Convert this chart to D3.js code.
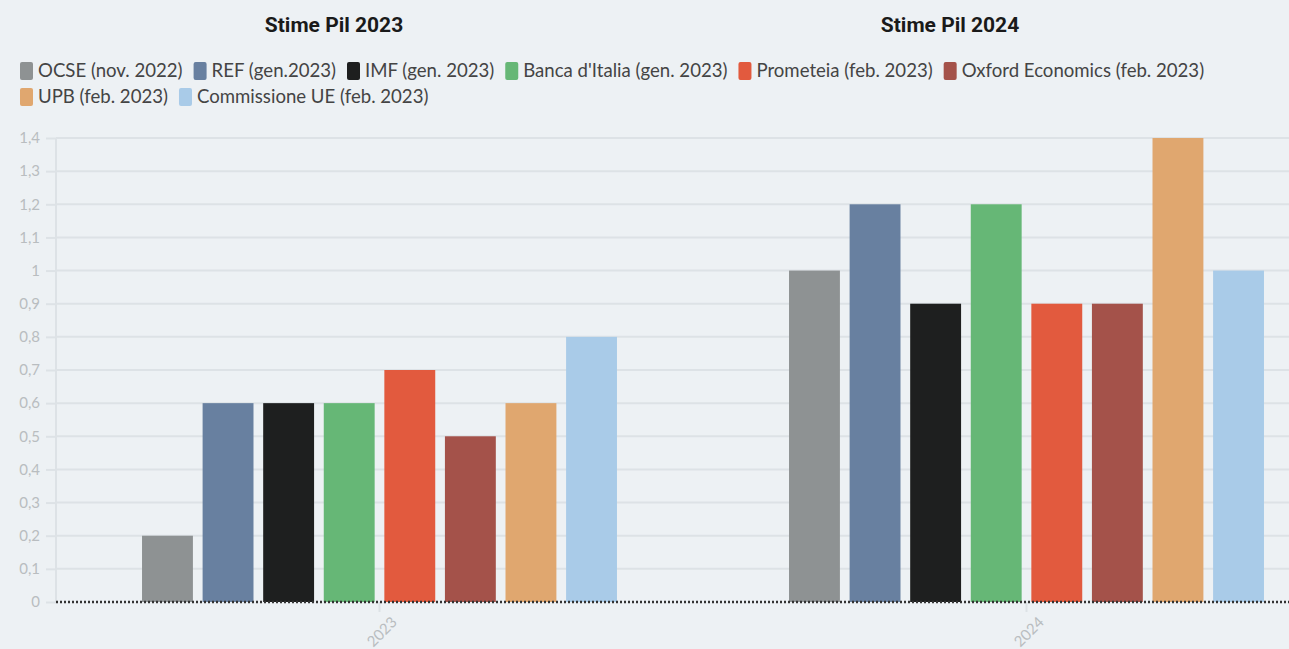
<!DOCTYPE html>
<head>
    <meta charset="utf-8">
    <script src="https://cdn.jsdelivr.net/npm/d3@7"></script>
    <style type="text/css">
        body {
            margin: 0;
            background: #edf1f4;
        }
        #chart svg {
            display: block;
        }
        .title {
            font: bold 21px Roboto, sans-serif;
            fill: #1a1a1a;
        }
        .legend text {
            font: 18.6px Lato, sans-serif;
            fill: #444;
        }
        .axis text {
            font: 15px Lato, sans-serif;
            fill: #b9bdc0;
        }
    </style>
</head>
<body>
    <div id="chart"></div>
</body>
</html>

<script type="text/javascript">
    var width = 1289, height = 649;

    // Data
    var years = ["2023", "2024"];
    var series = ["OCSE (nov. 2022)", "REF (gen.2023)", "IMF (gen. 2023)", "Banca d'Italia (gen. 2023)",
                  "Prometeia (feb. 2023)", "Oxford Economics (feb. 2023)", "UPB (feb. 2023)", "Commissione UE (feb. 2023)"];
    var colors = ["#8e9293", "#6880a0", "#1e1f1f", "#66b776", "#e25a3e", "#a4524a", "#e0a76f", "#a9cbe8"];
    var values2023 = [0.2, 0.6, 0.6, 0.6, 0.7, 0.5, 0.6, 0.8];
    var values2024 = [1.0, 1.2, 0.9, 1.2, 0.9, 0.9, 1.4, 1.0];
    var titles = ["Stime Pil 2023", "Stime Pil 2024"];
    var yTicks = d3.range(0, 15).map(function(i) { return i / 10; });

    var svg = d3.select("#chart").append("svg")
        .attr("width", width)
        .attr("height", height);

    var margin = {left: 56, top: 138, bottom: 602};
    var plotRight = 1350;

    var x0 = d3.scaleBand()
        .domain(years)
        .range([margin.left, plotRight]);

    var x1 = d3.scaleBand()
        .domain(series)
        .range([0, x0.bandwidth()])
        .paddingInner(0.16)
        .paddingOuter(1.42);

    var y = d3.scaleLinear()
        .domain([0, 1.4])
        .range([margin.bottom, margin.top]);

    var it = d3.formatLocale({decimal: ",", thousands: ".", grouping: [3], currency: ["", "€"]});
    var fmt = it.format("~g");

    // Titles
    svg.selectAll(".title")
        .data(titles)
        .enter().append("text")
        .attr("class", "title")
        .attr("x", function(d, i) { return i === 0 ? 334 : 950; })
        .attr("y", 32)
        .attr("text-anchor", "middle")
        .text(function(d) { return d; });

    // Legend (flowing rows)
    var legend = svg.append("g").attr("class", "legend");
    var lx = 20, ly = 71, maxX = 1240;
    series.forEach(function(s, i) {
        var g = legend.append("g");
        g.append("rect")
            .attr("x", 0).attr("y", -9)
            .attr("width", 13).attr("height", 18)
            .attr("rx", 2)
            .attr("fill", colors[i]);
        var t = g.append("text")
            .attr("x", 18).attr("y", 6)
            .text(s);
        var w = 18 + t.node().getComputedTextLength() + 11;
        if (lx + w > maxX) { lx = 20; ly += 26; }
        g.attr("transform", "translate(" + lx + "," + ly + ")");
        lx += w;
    });

    // Grid + y axis
    var yAxis = svg.append("g")
        .attr("class", "axis")
        .attr("transform", "translate(" + margin.left + ",0)")
        .call(d3.axisLeft(y).tickValues(yTicks).tickFormat(fmt).tickSize(10).tickPadding(6));
    yAxis.select(".domain").remove();
    yAxis.selectAll(".tick line").attr("stroke", "#dde2e6").attr("stroke-width", 2);

    svg.append("g")
        .selectAll("line")
        .data(yTicks.slice(1))
        .enter().append("line")
        .attr("x1", margin.left).attr("x2", width)
        .attr("y1", function(d) { return y(d); })
        .attr("y2", function(d) { return y(d); })
        .attr("stroke", "#dde2e6")
        .attr("stroke-width", 2);

    svg.append("line")
        .attr("x1", margin.left).attr("x2", margin.left)
        .attr("y1", margin.top).attr("y2", margin.bottom)
        .attr("stroke", "#dde2e6")
        .attr("stroke-width", 2);

    // Bars
    var data = [values2023, values2024];
    var groups = svg.append("g")
        .selectAll("g")
        .data(years)
        .enter().append("g")
        .attr("transform", function(d) { return "translate(" + x0(d) + ",0)"; });

    groups.selectAll("rect")
        .data(function(d, i) { return data[i].map(function(v, j) { return {s: series[j], v: v, c: colors[j]}; }); })
        .enter().append("rect")
        .attr("x", function(d) { return x1(d.s); })
        .attr("width", x1.bandwidth())
        .attr("y", function(d) { return y(d.v); })
        .attr("height", function(d) { return y(0) - y(d.v); })
        .attr("fill", function(d) { return d.c; });

    // X axis
    var xAxis = svg.append("g")
        .attr("class", "axis")
        .attr("transform", "translate(0," + margin.bottom + ")")
        .call(d3.axisBottom(x0).tickSize(10).tickPadding(4));
    xAxis.select(".domain").remove();
    xAxis.selectAll(".tick line").attr("stroke", "#dde2e6").attr("stroke-width", 2);
    xAxis.selectAll(".tick text")
        .attr("text-anchor", "end")
        .attr("dx", "-2")
        .attr("dy", "14")
        .attr("transform", "rotate(-45)");

    // Dotted baseline
    svg.append("line")
        .attr("x1", margin.left).attr("x2", width)
        .attr("y1", y(0)).attr("y2", y(0))
        .attr("stroke", "#333")
        .attr("stroke-width", 2.5)
        .attr("stroke-dasharray", "2,2");
</script>
